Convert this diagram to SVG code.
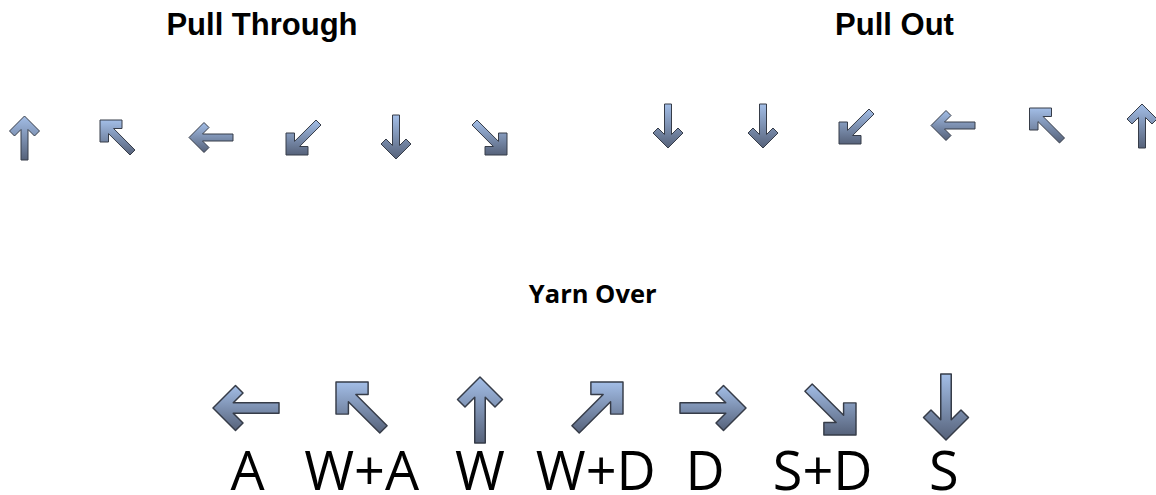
<svg xmlns="http://www.w3.org/2000/svg" width="1156" height="495" viewBox="0 0 1156 495">
<defs>
<linearGradient id="g" x1="0" y1="0" x2="0" y2="1">
<stop offset="0" stop-color="#a3bee7"/>
<stop offset="1" stop-color="#56627a"/>
</linearGradient>
<polygon id="up" points="0,0 15,15 10,20 3.5,13.5 3.5,44 -3.5,44 -3.5,13.5 -10,20 -15,15"/>
<polygon id="down" points="0,0 15,-15 10,-20 3.5,-13.5 3.5,-44 -3.5,-44 -3.5,-13.5 -10,-20 -15,-15"/>
<polygon id="left" points="0,0 15,15 20,10 13.5,3.5 44,3.5 44,-3.5 13.5,-3.5 20,-10 15,-15"/>
<polygon id="right" points="0,0 -15,15 -20,10 -13.5,3.5 -44,3.5 -44,-3.5 -13.5,-3.5 -20,-10 -15,-15"/>
<polygon id="nw" points="0,0 22,0 22,8.5 13.6,8.5 35,30 30,35 8.5,13.6 8.5,22 0,22"/>
<polygon id="ne" points="0,0 -22,0 -22,8.5 -13.6,8.5 -35,30 -30,35 -8.5,13.6 -8.5,22 0,22"/>
<polygon id="sw" points="0,0 22,0 22,-8.5 13.6,-8.5 35,-30 30,-35 8.5,-13.6 8.5,-22 0,-22"/>
<polygon id="se" points="0,0 -22,0 -22,-8.5 -13.6,-8.5 -35,-30 -30,-35 -8.5,-13.6 -8.5,-22 0,-22"/>
</defs>
<style>
.a{fill:url(#g);stroke:#363c48;stroke-width:1;stroke-linejoin:round}
.h{font-family:"Liberation Sans",Arial,sans-serif;font-weight:bold;font-size:31px;fill:#000;text-anchor:middle}
.y{font-family:"Open Sans","Liberation Sans",sans-serif;font-weight:bold;font-size:25.5px;fill:#000;text-anchor:middle}
.k{font-family:"Open Sans","Liberation Sans",sans-serif;font-size:54px;fill:#000;text-anchor:middle}
</style>
<rect width="1156" height="495" fill="#fff"/>
<g id="titles">
<text class="h" x="262" y="35">Pull Through</text>
<text class="h" x="894.5" y="35">Pull Out</text>
<text class="y" x="592.7" y="303">Yarn Over</text>
</g>
<g id="pull-through">
<g id="pt1"><use href="#up" class="a" transform="translate(24.5,116)"/></g>
<g id="pt2"><use href="#nw" class="a" transform="translate(100,120)"/></g>
<g id="pt3"><use href="#left" class="a" transform="translate(189,137.5)"/></g>
<g id="pt4"><use href="#sw" class="a" transform="translate(286,155)"/></g>
<g id="pt5"><use href="#down" class="a" transform="translate(396,159)"/></g>
<g id="pt6"><use href="#se" class="a" transform="translate(507,155)"/></g>
</g>
<g id="pull-out">
<g id="po1"><use href="#down" class="a" transform="translate(668,148)"/></g>
<g id="po2"><use href="#down" class="a" transform="translate(763,148)"/></g>
<g id="po3"><use href="#sw" class="a" transform="translate(839,144)"/></g>
<g id="po4"><use href="#left" class="a" transform="translate(931,125.5)"/></g>
<g id="po5"><use href="#nw" class="a" transform="translate(1029.5,108)"/></g>
<g id="po6"><use href="#up" class="a" transform="translate(1142,104)"/></g>
</g>
<g id="yarn-over">
<g id="yo-a"><use href="#left" class="a" transform="translate(213,408) scale(1.5)"/><text class="k" x="247.5" y="490">A</text></g>
<g id="yo-wa"><use href="#nw" class="a" transform="translate(336,382) scale(1.46)"/><text class="k" x="361.7" y="490">W+A</text></g>
<g id="yo-w"><use href="#up" class="a" transform="translate(480,377) scale(1.5)"/><text class="k" x="480" y="490">W</text></g>
<g id="yo-wd"><use href="#ne" class="a" transform="translate(623,382) scale(1.46)"/><text class="k" x="595.8" y="490">W+D</text></g>
<g id="yo-d"><use href="#right" class="a" transform="translate(746,408) scale(1.5)"/><text class="k" x="705" y="490">D</text></g>
<g id="yo-sd"><use href="#se" class="a" transform="translate(856,435) scale(1.46)"/><text class="k" x="822.7" y="490">S+D</text></g>
<g id="yo-s"><use href="#down" class="a" transform="translate(946,440) scale(1.5)"/><text class="k" x="943.8" y="490">S</text></g>
</g>
<g id="connectors"/>
</svg>
